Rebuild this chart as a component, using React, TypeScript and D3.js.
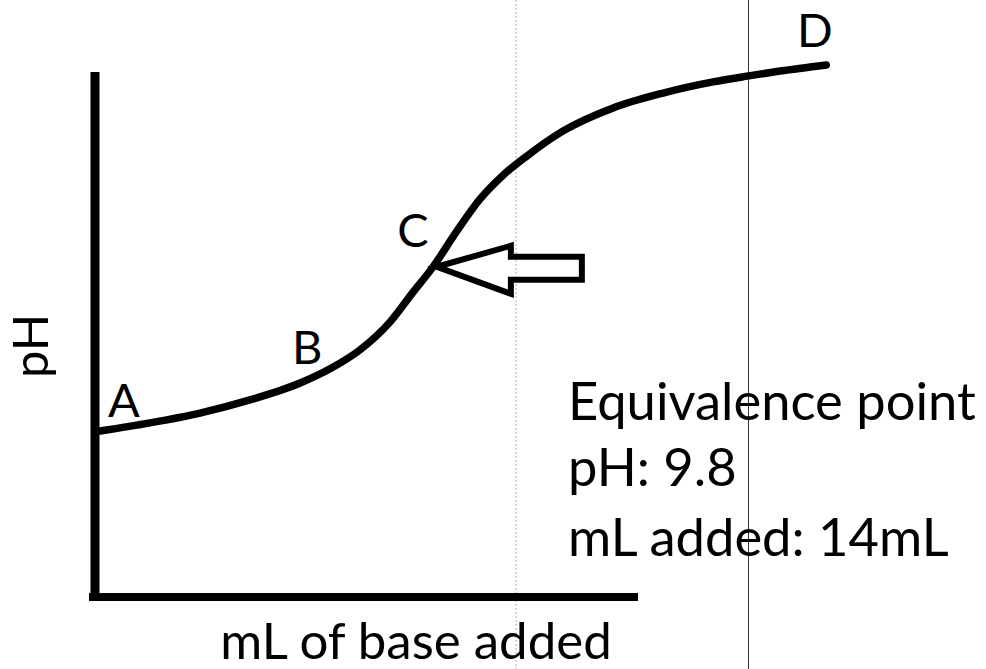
import React from 'react';
import * as d3 from 'd3';

const W = 986;
const H = 669;

// Titration curve (mL of base vs pH, sketch units)
const mlAdded = [0.21, 2.28, 4.35, 6.42, 8.5, 9.74, 10.98, 12.23, 13.18, 14.0, 15.0, 15.95, 16.91, 17.9, 19.4, 21.47, 23.54, 25.61, 27.02, 28.39, 30.3];
const phValues = [4.94, 5.18, 5.47, 5.86, 6.36, 6.78, 7.34, 8.17, 9.05, 9.79, 10.86, 11.8, 12.51, 13.08, 13.82, 14.5, 14.94, 15.27, 15.44, 15.59, 15.77];

const pointLabels = ['A', 'B', 'C', 'D'];
const labelMl = [0.54, 8.16, 12.52, 29.09];
const labelPh = [5.36, 6.92, 10.38, 16.3];

const eqMl = 14;
const eqPh = 9.8;
const annotationLines = ['Equivalence point', 'pH: 9.8', 'mL added: 14mL'];
const xTitle = 'mL of base added';
const yTitle = 'pH';

const FONT = 'Lato, "Open Sans", sans-serif';

export default function App() {
  const x = d3.scaleLinear().domain([0, 30]).range([95, 819]);
  const y = d3.scaleLinear().domain([0, 16]).range([598, 57.2]);

  const pts = mlAdded.map((m, i) => [x(m), y(phValues[i])] as [number, number]);
  const line = d3.line().curve(d3.curveMonotoneX);
  const d = line(pts) || '';

  const tx = x(eqMl) + 4;
  const ty = y(eqPh);
  const arrow = [
    [tx, ty],
    [tx + 74, ty - 21],
    [tx + 74, ty - 10],
    [tx + 145, ty - 10],
    [tx + 145, ty + 13],
    [tx + 74, ty + 13],
    [tx + 74, ty + 27],
  ];
  const arrowD = 'M' + arrow.map((p) => p.join(',')).join('L') + 'Z';

  return (
    <svg
      width={W}
      height={H}
      style={{ position: 'absolute', left: 0, top: 0, background: '#fff' }}
      fontFamily={FONT}
    >
      <rect width={W} height={H} fill="#fff" />
      {/* faint scan lines */}
      <line x1={516} x2={516} y1={0} y2={H} stroke="#b0b0b0" strokeWidth={1} strokeDasharray="2,2" />
      <line x1={748.5} x2={748.5} y1={0} y2={H} stroke="#333" strokeWidth={1} />

      {/* axes */}
      <line x1={95} x2={95} y1={72} y2={601} stroke="#000" strokeWidth={9} />
      <line x1={89} x2={638} y1={597} y2={597} stroke="#000" strokeWidth={8} />

      {/* curve */}
      <path d={d} fill="none" stroke="#000" strokeWidth={7.5} strokeLinecap="round" strokeLinejoin="round" />

      {/* arrow */}
      <path d={arrowD} fill="none" stroke="#000" strokeWidth={6} strokeLinejoin="miter" />

      {/* point labels */}
      {pointLabels.map((t, i) => (
        <text key={t} x={x(labelMl[i])} y={y(labelPh[i])} fontSize={47} fill="#000">
          {t}
        </text>
      ))}

      {/* annotation */}
      {annotationLines.map((t, i) => (
        <text key={t} x={568} y={[420, 486, 556][i]} fontSize={52.5} fill="#000">
          {t}
        </text>
      ))}

      {/* axis titles */}
      <text x={416} y={659} fontSize={51} textAnchor="middle" fill="#000">
        {xTitle}
      </text>
      <text transform="translate(48,346) rotate(-90)" fontSize={49} textAnchor="middle" fill="#000">
        {yTitle}
      </text>
    </svg>
  );
}
